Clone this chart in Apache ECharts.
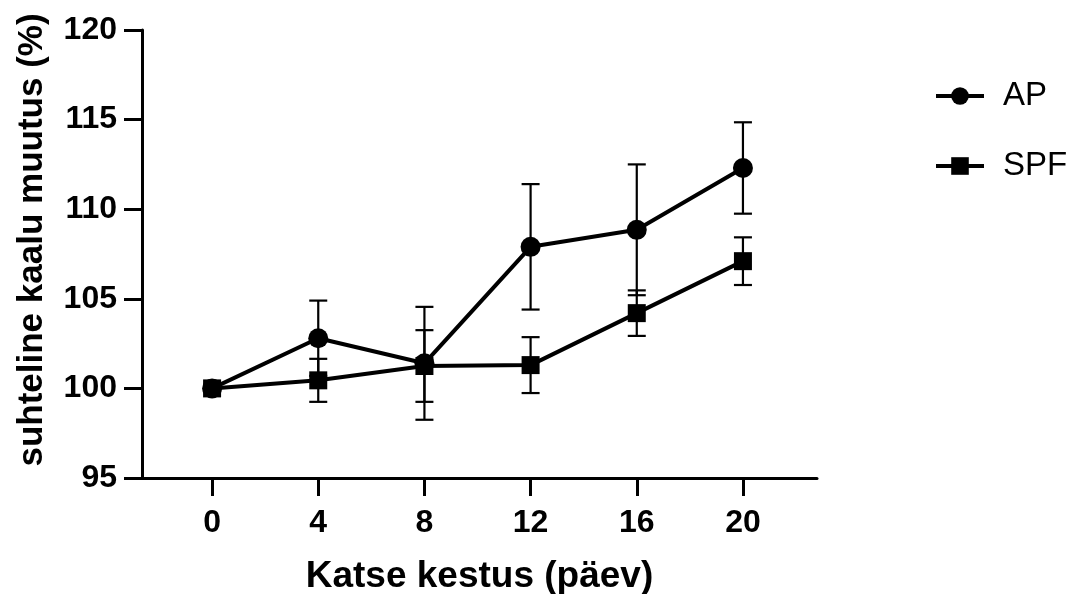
<!DOCTYPE html>
<html>
<head>
<meta charset="utf-8">
<script src="https://cdn.jsdelivr.net/npm/echarts@6/dist/echarts.min.js"></script>
<style>
html,body{margin:0;padding:0;background:#fff;}
#chart{width:1079px;height:594px;}
</style>
</head>
<body>
<div id="chart"></div>
<script>
const days = [0, 4, 8, 12, 16, 20];
const xTicks = [0, 4, 8, 12, 16, 20];
const yTicks = [95, 100, 105, 110, 115, 120];
const apMean = [100, 102.8, 101.4, 107.9, 108.85, 112.3];
const apErr  = [0, 2.1, 3.15, 3.5, 3.65, 2.55];
const spfMean = [100, 100.45, 101.25, 101.3, 104.2, 107.1];
const spfErr  = [0, 1.2, 2.0, 1.56, 1.27, 1.33];
const seriesNames = ['AP', 'SPF'];
const xTitle = 'Katse kestus (päev)';
const yTitle = 'suhteline kaalu muutus (%)';

const FONT = 'Liberation Sans';

function pts(means) { return days.map((d, i) => [d, means[i]]); }
function errData(means, errs) {
  return days.map((d, i) => [d, means[i] - errs[i], means[i] + errs[i]]).filter((r, i) => errs[i] > 0);
}
function errRender(params, api) {
  const x = api.value(0);
  const lo = api.coord([x, api.value(1)]);
  const hi = api.coord([x, api.value(2)]);
  const w = 9;
  const st = { stroke: '#000', lineWidth: 2.2 };
  return {
    type: 'group',
    children: [
      { type: 'line', shape: { x1: lo[0], y1: lo[1], x2: hi[0], y2: hi[1] }, style: st },
      { type: 'line', shape: { x1: lo[0] - w, y1: lo[1], x2: lo[0] + w, y2: lo[1] }, style: st },
      { type: 'line', shape: { x1: hi[0] - w, y1: hi[1], x2: hi[0] + w, y2: hi[1] }, style: st }
    ]
  };
}

const legendBase = {
  orient: 'vertical', left: 929, itemWidth: 48, itemHeight: 22, itemGap: 10,
  lineStyle: { width: 4 },
  textStyle: { fontFamily: FONT, fontSize: 33, color: '#000', lineHeight: 36, padding: [0, 0, 0, 14] }
};

const chart = echarts.init(document.getElementById('chart'));
chart.setOption({
  animation: false,
  backgroundColor: '#fff',
  grid: { left: 142, right: 262, top: 30, bottom: 116, containLabel: false, outerBoundsMode: 'none' },
  xAxis: {
    type: 'value', min: -2.64, max: 22.79,
    name: xTitle, nameLocation: 'middle', nameGap: 80,
    nameTextStyle: { fontFamily: FONT, fontWeight: 'bold', fontSize: 37, color: '#000' },
    axisLine: { show: true, onZero: false, lineStyle: { color: '#000', width: 3 } },
    axisTick: { show: true, customValues: xTicks, length: 18, lineStyle: { color: '#000', width: 3 } },
    axisLabel: { customValues: xTicks, margin: 29, fontFamily: FONT, fontWeight: 'bold', fontSize: 32, color: '#000' },
    splitLine: { show: false }
  },
  yAxis: {
    type: 'value', min: 95, max: 120, interval: 5,
    name: yTitle, nameLocation: 'middle', nameGap: 92, nameRotate: 90,
    nameTextStyle: { fontFamily: FONT, fontWeight: 'bold', fontSize: 35, color: '#000', padding: [0, 0, 0, 28] },
    axisLine: { show: true, onZero: false, lineStyle: { color: '#000', width: 3 } },
    axisTick: { show: true, length: 18, lineStyle: { color: '#000', width: 3 } },
    axisLabel: { margin: 25, fontFamily: FONT, fontWeight: 'bold', fontSize: 32, color: '#000',
      formatter: v => yTicks.includes(v) ? String(v) : '' },
    splitLine: { show: false }
  },
  legend: [
    Object.assign({}, legendBase, { data: [seriesNames[0]], top: 73 }),
    Object.assign({}, legendBase, { data: [seriesNames[1]], top: 143 })
  ],
  series: [
    { type: 'custom', name: 'AP err', data: errData(apMean, apErr), renderItem: errRender, z: 1, silent: true },
    { type: 'custom', name: 'SPF err', data: errData(spfMean, spfErr), renderItem: errRender, z: 1, silent: true },
    { type: 'line', name: seriesNames[0], data: pts(apMean), symbol: 'circle', symbolSize: 20,
      lineStyle: { color: '#000', width: 4 }, itemStyle: { color: '#000' }, z: 3 },
    { type: 'line', name: seriesNames[1], data: pts(spfMean), symbol: 'rect', symbolSize: 18,
      lineStyle: { color: '#000', width: 4 }, itemStyle: { color: '#000' }, z: 4 }
  ]
});
</script>
</body>
</html>
